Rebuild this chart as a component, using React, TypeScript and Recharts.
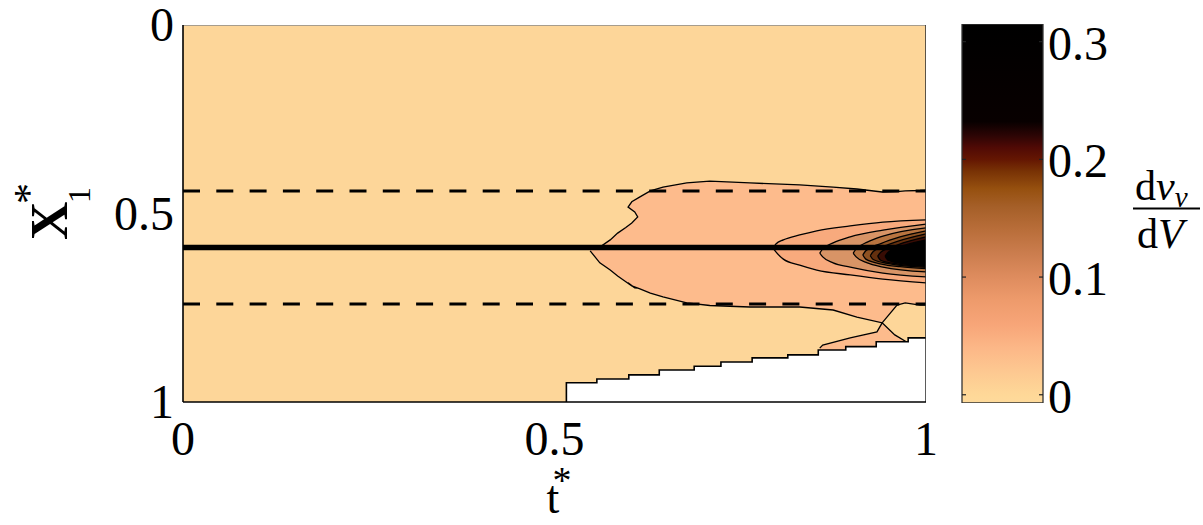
import React from 'react';
import { ComposedChart, Area, Line, XAxis, YAxis } from 'recharts';

const SERIF = 'Liberation Serif, Times New Roman, Times, serif';

// Axis ticks
const tTicks = [0, 0.5, 1];
const xTicks = [0, 0.5, 1];
const barTicks = [0, 0.1, 0.2, 0.3];
const barDomain: [number, number] = [-0.007, 0.315];

// Horizontal reference positions along X1*
const midLine = 0.59;
const edgeLines = [0.44, 0.74];

// Filled contour levels as [t*, upper X1*, lower X1*]
type Band = [number, number, number];

const level1: Band[] = [
  [0.548, 0.594, 0.599],
  [0.561, 0.589, 0.631],
  [0.575, 0.57, 0.65],
  [0.585, 0.552, 0.666],
  [0.596, 0.537, 0.681],
  [0.604, 0.525, 0.692],
  [0.612, 0.509, 0.698],
  [0.608, 0.496, 0.697],
  [0.599, 0.483, 0.684],
  [0.604, 0.469, 0.692],
  [0.615, 0.456, 0.7],
  [0.629, 0.44, 0.711],
  [0.646, 0.43, 0.721],
  [0.678, 0.419, 0.737],
  [0.709, 0.414, 0.744],
  [0.763, 0.419, 0.748],
  [0.83, 0.424, 0.748],
  [0.875, 0.43, 0.756],
  [0.907, 0.435, 0.775],
  [0.941, 0.443, 0.79],
  [0.961, 0.442, 0.743],
  [0.972, 0.44, 0.737],
  [0.992, 0.439, 0.743],
  [1.0, 0.438, 0.743],
];

// Lower pocket of the first level, [t*, upper X1*]
const level1Pocket: [number, number][] = [
  [0.857, 0.857],
  [0.861, 0.849],
  [0.898, 0.83],
  [0.934, 0.814],
  [0.941, 0.79],
  [0.958, 0.822],
  [0.974, 0.841],
];

// Edge of the region without data, [t*, X1*]
const dryEdge: [number, number][] = [
  [0.516, 1.0],
  [0.516, 0.949],
  [0.557, 0.939],
  [0.6, 0.928],
  [0.641, 0.915],
  [0.688, 0.905],
  [0.724, 0.894],
  [0.766, 0.883],
  [0.814, 0.875],
  [0.855, 0.862],
  [0.892, 0.853],
  [0.933, 0.84],
  [0.976, 0.83],
  [1.0, 0.83],
];

const ring1: Band[] = [
  [0.794, 0.592, 0.592],
  [0.798, 0.581, 0.602],
  [0.808, 0.57, 0.621],
  [0.83, 0.557, 0.637],
  [0.853, 0.546, 0.65],
  [0.898, 0.533, 0.663],
  [0.942, 0.523, 0.674],
  [1.0, 0.517, 0.684],
];
const ring2: Band[] = [
  [0.857, 0.605, 0.605],
  [0.861, 0.594, 0.615],
  [0.875, 0.578, 0.631],
  [0.898, 0.562, 0.642],
  [0.942, 0.544, 0.658],
  [1.0, 0.528, 0.668],
];
const ring3: Band[] = [
  [0.902, 0.605, 0.605],
  [0.906, 0.594, 0.615],
  [0.921, 0.576, 0.631],
  [0.942, 0.56, 0.642],
  [1.0, 0.538, 0.655],
];
const ring4: Band[] = [
  [0.915, 0.61, 0.61],
  [0.919, 0.599, 0.621],
  [0.94, 0.579, 0.634],
  [0.965, 0.562, 0.641],
  [1.0, 0.546, 0.646],
];
const ring5: Band[] = [
  [0.925, 0.612, 0.612],
  [0.929, 0.601, 0.622],
  [0.95, 0.582, 0.633],
  [1.0, 0.554, 0.643],
];
const ring6: Band[] = [
  [0.935, 0.613, 0.613],
  [0.939, 0.603, 0.624],
  [0.962, 0.583, 0.634],
  [1.0, 0.562, 0.64],
];
const ring7: Band[] = [
  [0.945, 0.613, 0.613],
  [0.949, 0.603, 0.624],
  [0.972, 0.584, 0.634],
  [1.0, 0.57, 0.638],
];

const BG = '#FDD699';
const LEVEL1 = '#FDBB8C';
const ringColours = ['#F8AA7D', '#D89466', '#B87440', '#8E5222', '#64300E', '#380C04', '#000000'];
const rings = [ring1, ring2, ring3, ring4, ring5, ring6, ring7];

// Colour map stops: [value, colour]
const mapStops: [number, string][] = [
  [-0.007, '#FEDA9B'],
  [0.0, '#FED898'],
  [0.02, '#FDC891'],
  [0.04, '#FCB787'],
  [0.06, '#F7A578'],
  [0.08, '#EE9B6C'],
  [0.1, '#DE8C5E'],
  [0.12, '#CB7D4E'],
  [0.14, '#B96E3A'],
  [0.16, '#A55F28'],
  [0.175, '#96500F'],
  [0.19, '#783205'],
  [0.2, '#641602'],
  [0.21, '#500A05'],
  [0.22, '#2D0505'],
  [0.232, '#080000'],
  [0.315, '#000000'],
];

const toRange = (rows: Band[]) => rows.map(([t, a, b]) => ({ t, r: [a, b] }));
const toEdge = (rows: [number, number][]) => rows.map(([t, v]) => ({ t, v }));
const flat = (v: number) => [{ t: 0, v }, { t: 1, v }];

const plotBg = flat(0);
const topBorder = flat(0);
const rightBorder = [{ t: 1, v: 0 }, { t: 1, v: 1 }];

const textStyle = { fontFamily: SERIF };

const TTick = (props: any) => {
  const { x, payload } = props;
  return (
    <text x={x} y={455} textAnchor="middle" fontSize={48} fontFamily={SERIF} style={textStyle} fill="#000">
      {String(payload.value)}
    </text>
  );
};

const XTick = (props: any) => {
  const { y, payload } = props;
  return (
    <text x={174} y={y} dy={16} textAnchor="end" fontSize={48} fontFamily={SERIF} style={textStyle} fill="#000">
      {String(payload.value)}
    </text>
  );
};

const AxisTitles = () => (
  <g fontFamily={SERIF} style={textStyle} fill="#000">
    <g transform="translate(67,240) rotate(-90)">
      <text x={0} y={0} fontSize={53} fontWeight="bold" style={textStyle}>X</text>
      <text x={37} y={23} fontSize={32} style={textStyle}>1</text>
      <text x={36} y={-24} fontSize={42} style={textStyle}>*</text>
    </g>
    <text x={553} y={513} fontSize={46} textAnchor="middle" style={textStyle}>t</text>
    <text x={562} y={493} fontSize={38} textAnchor="middle" style={textStyle}>*</text>
  </g>
);

const BarTick = (props: any) => {
  const { y, payload } = props;
  return (
    <g>
      <line x1={962} x2={966} y1={y} y2={y} stroke="#222" strokeWidth={1.2} />
      <line x1={1039} x2={1043} y1={y} y2={y} stroke="#222" strokeWidth={1.2} />
      <text x={1048} y={y} dy={18} textAnchor="start" fontSize={48} fontFamily={SERIF} style={textStyle} fill="#000">
        {String(payload.value)}
      </text>
    </g>
  );
};

const BarTitle = () => (
  <g fontFamily={SERIF} style={textStyle} fill="#000">
    <text x={1135} y={200} fontSize={42} style={textStyle}>
      d<tspan fontStyle="italic">v</tspan>
      <tspan fontStyle="italic" fontSize={29} dy={7}>v</tspan>
    </text>
    <line x1={1133} x2={1200} y1={208.5} y2={208.5} stroke="#000" strokeWidth={2} />
    <text x={1137} y={248} fontSize={42} style={textStyle}>
      d<tspan fontStyle="italic">V</tspan>
    </text>
  </g>
);

const barSpan = barDomain[1] - barDomain[0];
const barFill = [{ c: 0, v: barDomain[1] }, { c: 1, v: barDomain[1] }];
const barFrame = [
  { c: 0, v: barDomain[0] },
  { c: 0, v: barDomain[1] },
  { c: 1, v: barDomain[1] },
  { c: 1, v: barDomain[0] },
  { c: 0, v: barDomain[0] },
];

const common = { isAnimationActive: false, dot: false, activeDot: false } as const;

export default function App() {
  return (
    <div style={{ position: 'absolute', left: 0, top: 0, width: 1203, height: 525, background: '#fff' }}>
      <div style={{ position: 'absolute', left: 0, top: 0 }}>
        <ComposedChart width={1203} height={525} margin={{ top: 25, right: 277, bottom: 0, left: 0 }}>
          <XAxis
            dataKey="t"
            type="number"
            domain={[0, 1]}
            ticks={tTicks}
            interval={0}
            allowDataOverflow
            height={123}
            tickLine={false}
            axisLine={{ stroke: '#000', strokeWidth: 1.6 }}
            tick={(p: any) => <TTick {...p} />}
          />
          <YAxis
            type="number"
            domain={[0, 1]}
            reversed
            ticks={xTicks}
            interval={0}
            allowDataOverflow
            width={183}
            tickLine={false}
            axisLine={{ stroke: '#000', strokeWidth: 1.6 }}
            tick={(p: any) => <XTick {...p} />}
            label={{ content: () => <AxisTitles /> }}
          />
          <Area data={plotBg} dataKey="v" baseValue={1} type="linear" fill={BG} fillOpacity={1} stroke="none" {...common} />
          <Area data={toRange(level1)} dataKey="r" type="linear" fill={LEVEL1} fillOpacity={1} stroke="#000" strokeWidth={1.3} {...common} />
          <Area data={toEdge(level1Pocket)} dataKey="v" baseValue={1} type="linear" fill={LEVEL1} fillOpacity={1} stroke="#000" strokeWidth={1.3} {...common} />
          <Area data={toEdge(dryEdge)} dataKey="v" baseValue={1} type="stepAfter" fill="#fff" fillOpacity={1} stroke="#000" strokeWidth={1.6} {...common} />
          {rings.map((ring, i) => (
            <Area
              key={`ring-${i}`}
              data={toRange(ring)}
              dataKey="r"
              type="monotone"
              fill={ringColours[i]}
              fillOpacity={1}
              stroke="#000"
              strokeWidth={1.3}
              {...common}
            />
          ))}
          {edgeLines.map((v, i) => (
            <Line key={`edge-${i}`} data={flat(v)} dataKey="v" type="linear" stroke="#000" strokeWidth={3} strokeDasharray="17 16.3" {...common} />
          ))}
          <Line data={flat(midLine)} dataKey="v" type="linear" stroke="#000" strokeWidth={5.5} {...common} />
          <Line data={topBorder} dataKey="v" type="linear" stroke="#8a8a8a" strokeWidth={1.4} {...common} />
          <Line data={rightBorder} dataKey="v" type="linear" stroke="#333" strokeWidth={1.6} {...common} />
        </ComposedChart>
      </div>
      <div style={{ position: 'absolute', left: 0, top: 0 }}>
        <ComposedChart width={1203} height={525} margin={{ top: 24, right: 0, bottom: 122, left: 962 }}>
          <defs>
            <linearGradient id="colourMap" x1="0" y1="1" x2="0" y2="0">
              {mapStops.map(([v, c], i) => (
                <stop key={i} offset={(v - barDomain[0]) / barSpan} stopColor={c} />
              ))}
            </linearGradient>
          </defs>
          <XAxis dataKey="c" type="number" domain={[0, 1]} hide />
          <YAxis
            type="number"
            orientation="right"
            domain={barDomain}
            allowDataOverflow
            ticks={barTicks}
            interval={0}
            width={160}
            tickLine={false}
            axisLine={false}
            tick={(p: any) => <BarTick {...p} />}
            label={{ content: () => <BarTitle /> }}
          />
          <Area data={barFill} dataKey="v" baseValue={barDomain[0]} type="linear" fill="url(#colourMap)" fillOpacity={1} stroke="none" {...common} />
          <Line data={barFrame} dataKey="v" type="linear" stroke="#333" strokeWidth={1.3} {...common} />
        </ComposedChart>
      </div>
    </div>
  );
}
